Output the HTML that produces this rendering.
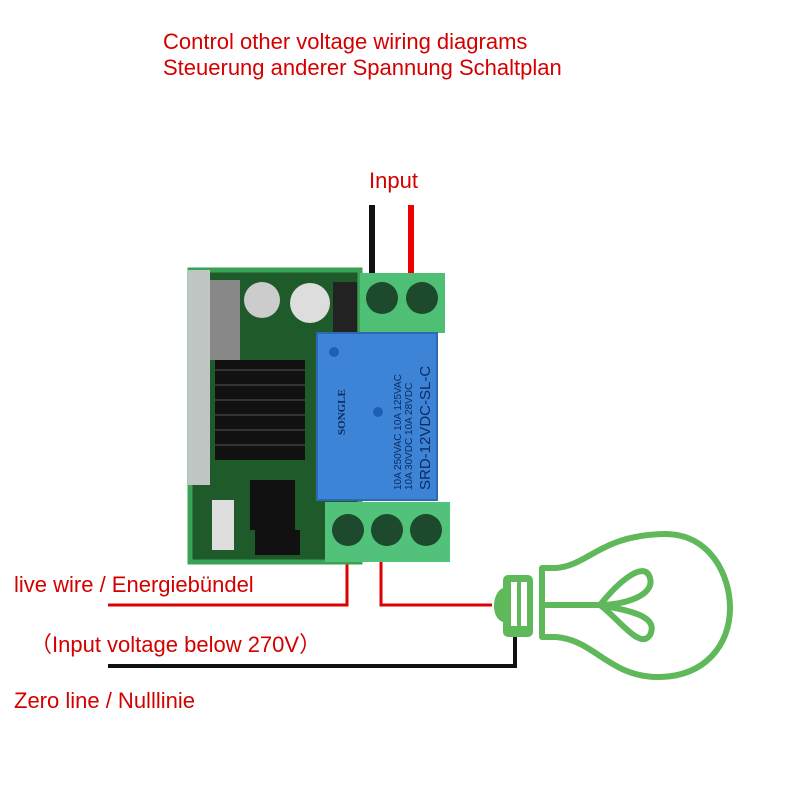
<!DOCTYPE html>
<html><head><meta charset="utf-8"><style>
html,body{margin:0;padding:0;background:#fff;}
body{width:800px;height:800px;position:relative;overflow:hidden;font-family:"Liberation Sans",sans-serif;}
.t{position:absolute;color:#d40000;font-size:22px;white-space:nowrap;}
.b{font-size:22px;}
</style></head><body>
<div class="t" style="left:163px;top:29px;">Control other voltage wiring diagrams</div>
<div class="t" style="left:163px;top:55px;">Steuerung anderer Spannung Schaltplan</div>
<div class="t b" style="left:369px;top:168px;">Input</div>
<div class="t b" style="left:14px;top:572px;">live wire / Energiebündel</div>
<div class="t b" style="left:30px;top:627px;">（Input voltage below 270V）</div>
<div class="t b" style="left:14px;top:688px;">Zero line / Nulllinie</div>
<svg width="800" height="800" style="position:absolute;left:0;top:0">
<line x1="372" y1="205" x2="372" y2="275" stroke="#111" stroke-width="6"/>
<line x1="411" y1="205" x2="411" y2="275" stroke="#e00" stroke-width="6"/>
<polyline points="347,560 347,605 108,605" fill="none" stroke="#d00" stroke-width="3"/>
<polyline points="381,560 381,605 492,605" fill="none" stroke="#d00" stroke-width="3"/>
<polyline points="108,666 515,666 515,636" fill="none" stroke="#111" stroke-width="4"/>
<rect x="190" y="270" width="170" height="292" fill="#1f5a2a"/>
<rect x="190" y="270" width="170" height="292" fill="none" stroke="#3aa255" stroke-width="5"/>
<rect x="188" y="270" width="22" height="215" fill="#bfc6c4"/>
<rect x="210" y="280" width="30" height="80" fill="#888"/>
<circle cx="262" cy="300" r="18" fill="#ccc"/>
<circle cx="310" cy="303" r="20" fill="#ddd"/>
<rect x="333" y="282" width="24" height="50" fill="#222"/>
<rect x="215" y="360" width="90" height="100" fill="#111"/>
<g stroke="#333" stroke-width="2"><line x1="215" y1="370" x2="305" y2="370"/><line x1="215" y1="385" x2="305" y2="385"/><line x1="215" y1="400" x2="305" y2="400"/><line x1="215" y1="415" x2="305" y2="415"/><line x1="215" y1="430" x2="305" y2="430"/><line x1="215" y1="445" x2="305" y2="445"/></g>
<rect x="212" y="500" width="22" height="50" fill="#ddd"/>
<rect x="250" y="480" width="45" height="50" fill="#111"/>
<rect x="255" y="530" width="45" height="25" fill="#111"/>
<rect x="360" y="273" width="85" height="60" fill="#4fbf75"/>
<circle cx="382" cy="298" r="16" fill="#1d4a2c"/>
<circle cx="422" cy="298" r="16" fill="#1d4a2c"/>
<rect x="317" y="333" width="120" height="167" fill="#3d84d6"/>
<rect x="317" y="333" width="120" height="167" fill="none" stroke="#2d6ab5" stroke-width="2"/>
<circle cx="334" cy="352" r="5" fill="#1e5fb5"/>
<circle cx="378" cy="412" r="5" fill="#1e5fb5"/>
<text transform="translate(430,490) rotate(-90)" font-family="Liberation Sans" font-size="15" fill="#0c2a60">SRD-12VDC-SL-C</text>
<text transform="translate(412,490) rotate(-90)" font-family="Liberation Sans" font-size="10" fill="#0c2a60">10A 30VDC 10A 28VDC</text>
<text transform="translate(401,490) rotate(-90)" font-family="Liberation Sans" font-size="10" fill="#0c2a60">10A 250VAC 10A 125VAC</text>
<text transform="translate(345,435) rotate(-90)" font-family="Liberation Serif" font-size="11" font-weight="bold" fill="#0c2a60">SONGLE</text>
<rect x="325" y="502" width="125" height="60" fill="#52c27a"/>
<circle cx="348" cy="530" r="16" fill="#1d4a2c"/>
<circle cx="387" cy="530" r="16" fill="#1d4a2c"/>
<circle cx="426" cy="530" r="16" fill="#1d4a2c"/>
<g fill="none" stroke="#5fb85a" stroke-width="6" stroke-linejoin="round">
<path d="M542,568 L556,568 C590,565 600,535 665,534 C710,534 730,575 730,608 C730,645 705,676 660,677 C610,678 595,640 556,637 L542,637 Z"/>
<line x1="544" y1="605" x2="600" y2="605"/>
<path d="M600,605 C620,580 645,560 650,578 C655,595 625,605 600,605 C625,610 660,615 650,635 C640,650 620,620 600,605"/>
</g>
<rect x="503" y="575" width="30" height="62" rx="5" fill="#5fb85a"/>
<rect x="511" y="582" width="6" height="44" fill="#fff"/>
<rect x="521" y="582" width="6" height="44" fill="#fff"/>
<path d="M503,588 C492,592 490,618 503,622 Z" fill="#5fb85a"/>
</svg>
</body></html>
